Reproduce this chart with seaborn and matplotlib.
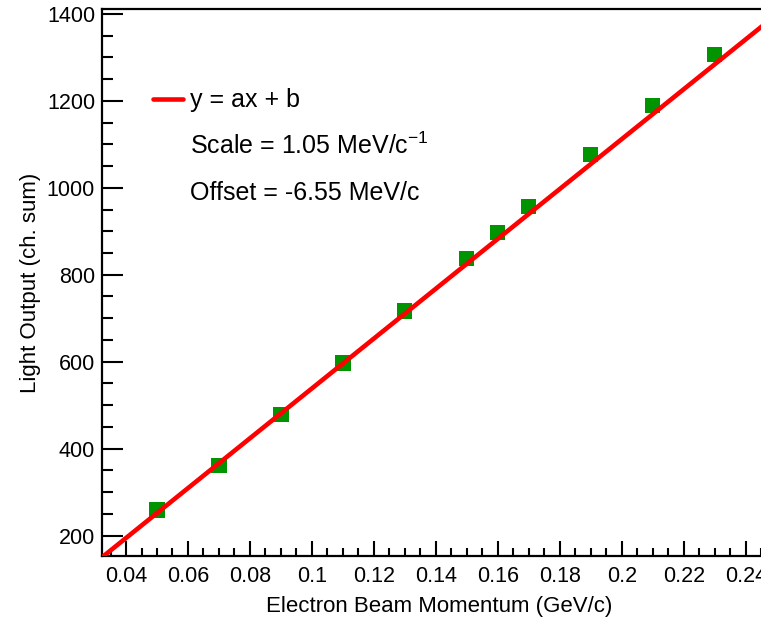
import numpy as np
import pandas as pd
import matplotlib
matplotlib.use("Agg")
import matplotlib.pyplot as plt
from matplotlib.ticker import MultipleLocator, FuncFormatter
import seaborn as sns

# Measured light output versus beam momentum
momentum = [0.05, 0.07, 0.09, 0.11, 0.13, 0.15, 0.16, 0.17, 0.19, 0.21, 0.23]
light_output = [258.6, 361.5, 478.0, 596.8, 716.7, 836.7, 897.6, 957.5, 1076.6, 1189.0, 1307.0]

# Linear fit parameters (y = a*x + b)
fit_slope = 5735.0
fit_intercept = -35.0

fit_label = "y = ax + b"
scale_text = "Scale = 1.05 MeV/c$^{-1}$"
offset_text = "Offset = -6.55 MeV/c"

x_title = "Electron Beam Momentum (GeV/c)"
y_title = "Light Output (ch. sum)"

x_range = (0.03225, 0.25)
y_range = (153.0, 1411.0)

sns.set_theme(style="ticks")
plt.rcParams["font.family"] = ["Liberation Sans", "DejaVu Sans"]
plt.rcParams["mathtext.fontset"] = "custom"
plt.rcParams["mathtext.rm"] = "Liberation Sans"
plt.rcParams["mathtext.default"] = "regular"
plt.rcParams["text.color"] = "black"
plt.rcParams["axes.labelcolor"] = "black"

fig = plt.figure(figsize=(7.61, 6.17), dpi=100)
ax = fig.add_axes([102 / 761, 61 / 617, 674.7 / 761, 546.9 / 617])

df = pd.DataFrame({"p": momentum, "lo": light_output})
sns.scatterplot(data=df, x="p", y="lo", ax=ax, marker="s", s=120,
                color="#009400", edgecolor="none", zorder=2, legend=False)

xs = np.array(x_range)
fit_df = pd.DataFrame({"p": xs, "lo": fit_slope * xs + fit_intercept})
sns.lineplot(data=fit_df, x="p", y="lo", ax=ax, color="#ff0000", lw=3.3,
             label=fit_label, zorder=3)

ax.set_xlim(*x_range)
ax.set_ylim(*y_range)

ax.xaxis.set_major_locator(MultipleLocator(0.02))
ax.xaxis.set_minor_locator(MultipleLocator(0.005))
ax.yaxis.set_major_locator(MultipleLocator(200))
ax.yaxis.set_minor_locator(MultipleLocator(50))
ax.xaxis.set_major_formatter(FuncFormatter(lambda v, _: f"{v:.2f}".rstrip("0").rstrip(".")))
ax.yaxis.set_major_formatter(FuncFormatter(lambda v, _: f"{v:.0f}"))

ax.tick_params(axis="both", which="both", direction="in", width=1.5, colors="black",
               labelcolor="black", labelsize=15.5, top=False, right=False)
ax.tick_params(axis="y", which="major", length=15, pad=5)
ax.tick_params(axis="y", which="minor", length=8)
ax.tick_params(axis="x", which="major", length=11, pad=7)
ax.tick_params(axis="x", which="minor", length=5.5)

for side in ["left", "bottom", "top", "right"]:
    ax.spines[side].set_visible(True)
    ax.spines[side].set_linewidth(1.6)
    ax.spines[side].set_color("black")

ax.set_xlabel(x_title, fontsize=16, labelpad=7, color="black")
ax.set_ylabel(y_title, fontsize=16, labelpad=4, color="black")

leg = ax.legend(loc="center left", bbox_to_anchor=(0.0758, 0.833), frameon=False,
                fontsize=18, handlelength=1.2, handletextpad=0.26,
                borderpad=0, borderaxespad=0, labelcolor="black")

ax.text(0.1304, 0.75, scale_text, transform=ax.transAxes, fontsize=18,
        va="center", ha="left", color="black")
ax.text(0.1304, 0.664, offset_text, transform=ax.transAxes, fontsize=18,
        va="center", ha="left", color="black")

fig.savefig("out.png", dpi=100, facecolor="white")
